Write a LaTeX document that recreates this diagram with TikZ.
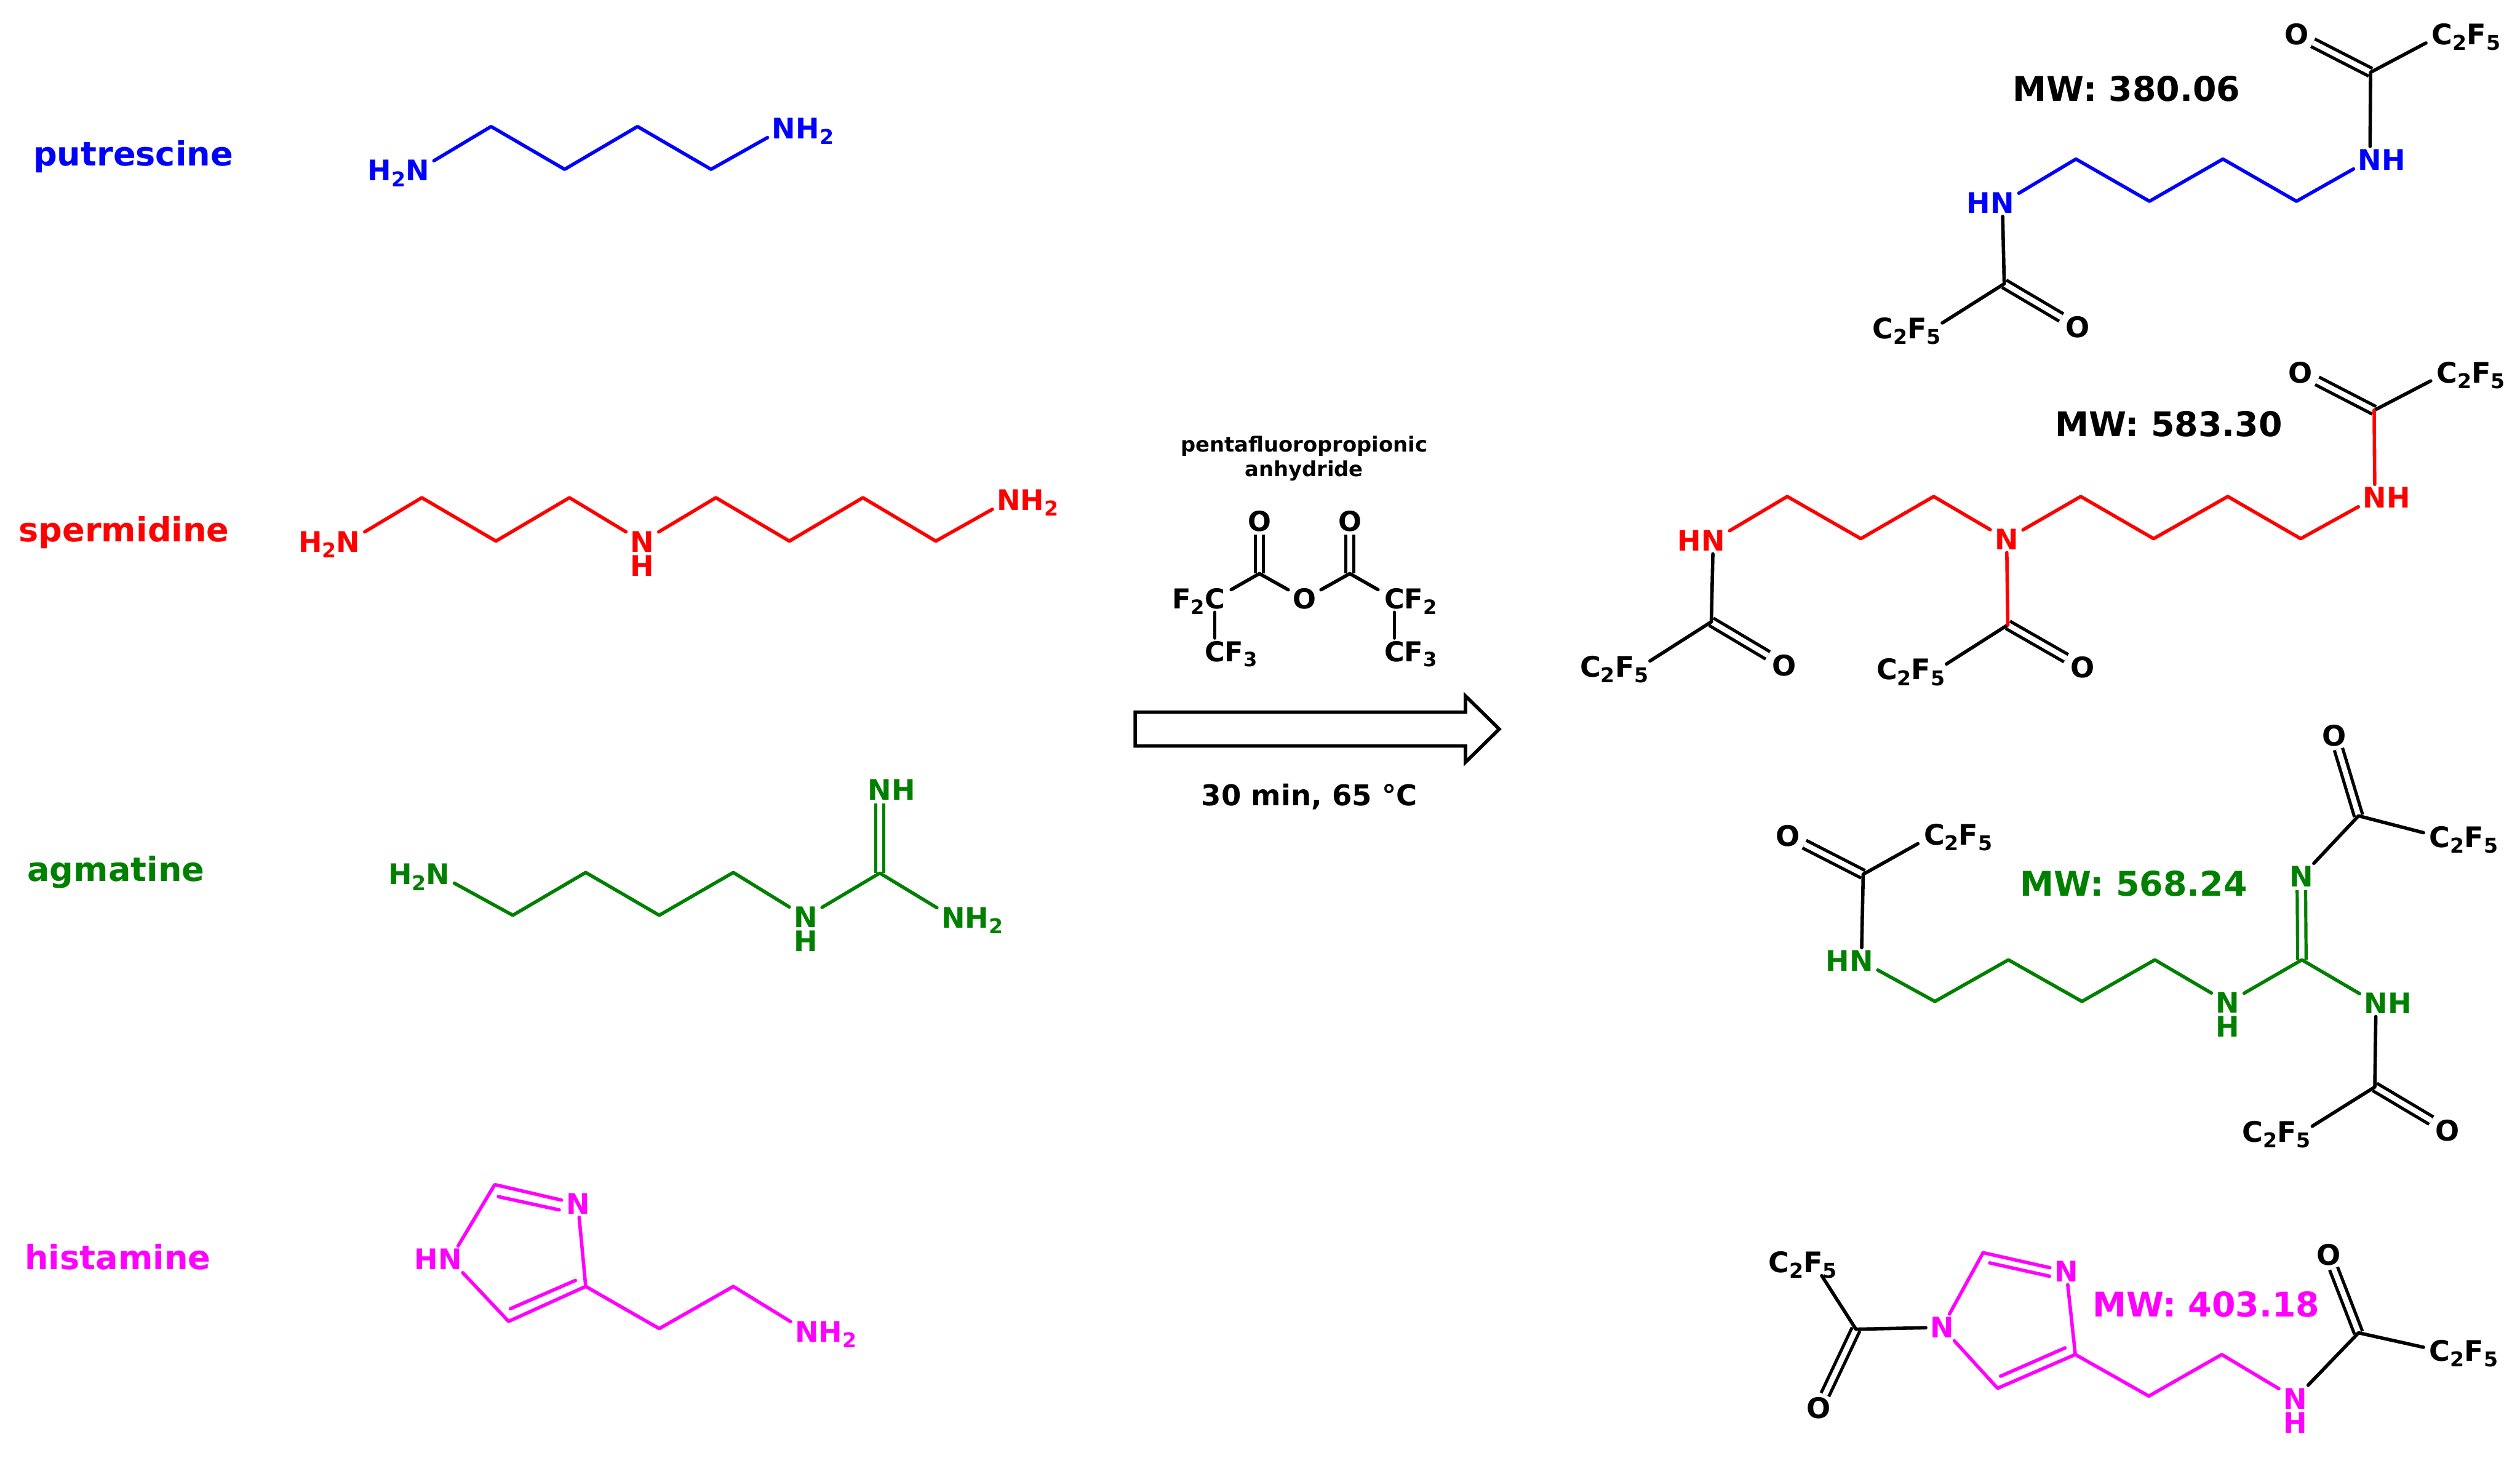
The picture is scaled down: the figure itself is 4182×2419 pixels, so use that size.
\documentclass[tikz,border=0pt]{standalone}
\usepackage{fontspec}
\setmainfont{DejaVu Sans}
\definecolor{hisco}{RGB}{255,0,255}
\definecolor{agmco}{RGB}{0,128,0}
\newcommand{\subnum}[1]{\smash{\raisebox{-0.2em}{\scalebox{0.72}{#1}}}}
\tikzset{
  bond/.style={line width=5.7pt, line join=round, line cap=round},
  dbond/.style={line width=5.3pt, double, double distance=8.7pt},
  atom/.style={font=\fontsize{47}{47}\selectfont\bfseries, inner sep=0pt, minimum width=54pt, minimum height=44pt,
    execute at begin node={\rule{0pt}{0.729em}}},
  tailatom/.style={atom, minimum width=28pt},
  reagent/.style={atom, font=\fontsize{45.5}{45.5}\selectfont\bfseries},
  namelabel/.style={font=\fontsize{55.3}{55.3}\selectfont\bfseries, anchor=base west, inner sep=0pt},
  mwlabel/.style={font=\fontsize{56.5}{56.5}\selectfont\bfseries, inner sep=0pt},
}
\begin{document}
\begin{tikzpicture}[x=1pt,y=-1pt]
    \useasboundingbox (0,0) rectangle (4182,2419);

    % Nombres
    \node[namelabel, blue] (lblput) at (55,275) {putrescine};
    \node[namelabel, red] (lblspd) at (31,899) {spermidine};
    \node[namelabel, agmco] (lblagm) at (45,1463) {agmatine};
    \node[namelabel, hisco] (lblhis) at (41,2107) {histamine};

    % Putrescina
    \node[atom, blue] (pn1) at (693,283) {\llap{H\subnum{2}}N};
    \node[atom, blue] (pn2) at (1301,213) {N\rlap{H\subnum{2}}};
    \coordinate (pc1) at (815,210);
    \coordinate (pc2) at (937,281);
    \coordinate (pc3) at (1058,210);
    \coordinate (pc4) at (1180,281);
    \draw[bond, blue] (pn1) -- (pc1) -- (pc2) -- (pc3) -- (pc4) -- (pn2);

    % Espermidina
    \node[atom, red] (sn1) at (578,899) {\llap{H\subnum{2}}N};
    \node[atom, red] (sn2) at (1066,899) {N};
    \node[atom, red] (sh2) at (1066,939) {H};
    \node[atom, red] (sn3) at (1674,830) {N\rlap{H\subnum{2}}};
    \coordinate (sc1) at (700,826);
    \coordinate (sc2) at (823,898);
    \coordinate (sc3) at (945,826);
    \coordinate (sc4) at (1188,826);
    \coordinate (sc5) at (1310,898);
    \coordinate (sc6) at (1432,826);
    \coordinate (sc7) at (1553,898);
    \draw[bond, red] (sn1) -- (sc1) -- (sc2) -- (sc3) -- (sn2);
    \draw[bond, red] (sn2) -- (sc4) -- (sc5) -- (sc6) -- (sc7) -- (sn3);

    % Agmatina
    \node[atom, agmco] (an1) at (727,1451) {\llap{H\subnum{2}}N};
    \node[atom, agmco] (an2) at (1337,1522) {N};
    \node[atom, agmco] (ah2) at (1337,1562) {H};
    \node[atom, agmco] (an3) at (1460,1311) {N\rlap{H}};
    \node[atom, agmco] (an4) at (1582,1523) {N\rlap{H\subnum{2}}};
    \coordinate (ac1) at (851,1519);
    \coordinate (ac2) at (972,1448);
    \coordinate (ac3) at (1094,1519);
    \coordinate (ac4) at (1217,1448);
    \coordinate (ac5) at (1460,1449);
    \draw[dbond, agmco] (ac5) -- (an3);
    \draw[bond, agmco] (an1) -- (ac1) -- (ac2) -- (ac3) -- (ac4) -- (an2);
    \draw[bond, agmco] (an2) -- (ac5) -- (an4);

    % Histamina
    \node[atom, hisco] (hn1) at (747,2090) {\llap{H}N};
    \node[atom, hisco] (hn2) at (959,1998) {N};
    \node[atom, hisco] (hn3) at (1339,2210) {N\rlap{H\subnum{2}}};
    \coordinate (hc1) at (821,1966);
    \coordinate (hc2) at (972,2135);
    \coordinate (hc3) at (844,2193);
    \coordinate (hc4) at (1094,2205);
    \coordinate (hc5) at (1217,2135);
    \coordinate (hi1) at (827,1986);
    \coordinate (hi2) at (928,2008);
    \coordinate (hi3) at (955,2125);
    \coordinate (hi4) at (847,2172);
    \draw[bond, hisco] (hn1) -- (hc1) -- (hn2) -- (hc2) -- (hc3) -- (hn1);
    \draw[bond, hisco] (hi1) -- (hi2);
    \draw[bond, hisco] (hi3) -- (hi4);
    \draw[bond, hisco] (hc2) -- (hc4) -- (hc5) -- (hn3);

    % Reactivo
    \node[font=\fontsize{34.5}{41}\selectfont\bfseries, align=center, inner sep=0pt] (rname) at (2164,761) {pentafluoropropionic\\anhydride};
    \node[reagent] (ro1) at (2090,865) {O};
    \node[reagent] (ro2) at (2240,865) {O};
    \node[reagent] (ro3) at (2165,994) {O};
    \node[reagent] (rf1) at (2016,994) {\llap{F\subnum{2}}C};
    \node[reagent] (rf2) at (2314,994) {C\rlap{F\subnum{2}}};
    \node[reagent] (rf3) at (2016,1081) {C\rlap{F\subnum{3}}};
    \node[reagent] (rf4) at (2314,1081) {C\rlap{F\subnum{3}}};
    \coordinate (rc1) at (2090,952);
    \coordinate (rc2) at (2240,952);
    \draw[dbond] (rc1) -- (ro1);
    \draw[dbond] (rc2) -- (ro2);
    \draw[bond] (rf1) -- (rc1) -- (ro3) -- (rc2) -- (rf2);
    \draw[bond] (rf1) -- (rf3);
    \draw[bond] (rf2) -- (rf4);

    % Flecha
    \draw[bond, line join=miter] (1884,1182) -- (2432,1182) -- (2432,1155) -- (2488,1210) -- (2432,1265) -- (2432,1238) -- (1884,1238) -- cycle;
    \node[font=\fontsize{47.5}{47.5}\selectfont\bfseries, inner sep=0pt] (rcond) at (2173,1322) {30 min, 65 °C};

    % Derivado de putrescina
    \node[mwlabel] (mwput) at (3529,147) {MW: 380.06};
    \node[atom] (po1) at (3811,57) {O};
    \node[atom] (pf1) at (4053,57) {C\rlap{\subnum{2}F\subnum{5}}};
    \node[atom, blue] (pm1) at (3933,265) {N\rlap{H}};
    \node[atom, blue] (pm2) at (3323,337) {\llap{H}N};
    \node[atom] (po2) at (3448,543) {O};
    \node[tailatom] (pf2) at (3209,545) {\llap{C\subnum{2}F}\subnum{5}};
    \coordinate (pd1) at (3934,120);
    \coordinate (pd2) at (3326,471);
    \coordinate (pd3) at (3445,264);
    \coordinate (pd4) at (3567,334);
    \coordinate (pd5) at (3689,264);
    \coordinate (pd6) at (3811,334);
    \draw[dbond] (pd1) -- (po1);
    \draw[dbond] (pd2) -- (po2);
    \draw[bond] (pf1) -- (pd1) -- (pm1);
    \draw[bond] (pf2) -- (pd2) -- (pm2);
    \draw[bond, blue] (pm2) -- (pd3) -- (pd4) -- (pd5) -- (pd6) -- (pm1);

    % Derivado de espermidina
    \node[mwlabel] (mwspd) at (3599,704) {MW: 583.30};
    \node[atom] (so1) at (3818,618) {O};
    \node[atom] (sf1) at (4061,618) {C\rlap{\subnum{2}F\subnum{5}}};
    \node[atom, red] (sm1) at (3941,826) {N\rlap{H}};
    \node[atom, red] (sm2) at (3330,895) {N};
    \node[atom, red] (sm3) at (2843,897) {\llap{H}N};
    \node[atom] (so2) at (2961,1104) {O};
    \node[tailatom] (sf2) at (2724,1106) {\llap{C\subnum{2}F}\subnum{5}};
    \node[atom] (so3) at (3456,1108) {O};
    \node[tailatom] (sf3) at (3216,1111) {\llap{C\subnum{2}F}\subnum{5}};
    \coordinate (sd1) at (3940,681);
    \coordinate (sd2) at (2840,1032);
    \coordinate (sd3) at (3332,1037);
    \coordinate (sd4) at (3818,894);
    \coordinate (sd5) at (3697,824);
    \coordinate (sd6) at (3574,894);
    \coordinate (sd7) at (3453,824);
    \coordinate (sd8) at (3209,824);
    \coordinate (sd9) at (3088,894);
    \coordinate (sd10) at (2966,824);
    \draw[dbond] (sd1) -- (so1);
    \draw[dbond] (sd2) -- (so2);
    \draw[dbond] (sd3) -- (so3);
    \draw[bond] (sf1) -- (sd1);
    \draw[bond] (sf2) -- (sd2) -- (sm3);
    \draw[bond] (sf3) -- (sd3);
    \draw[bond, red] (sm1) -- (sd1);
    \draw[bond, red] (sm2) -- (sd3);
    \draw[bond, red] (sm1) -- (sd4) -- (sd5) -- (sd6) -- (sd7) -- (sm2);
    \draw[bond, red] (sm2) -- (sd8) -- (sd9) -- (sd10) -- (sm3);

    % Derivado de agmatina
    \node[mwlabel, agmco] (mwagm) at (3541,1466) {MW: 568.24};
    \node[atom] (ao1) at (2967,1387) {O};
    \node[atom] (af1) at (3210,1385) {C\rlap{\subnum{2}F\subnum{5}}};
    \node[atom, agmco] (am1) at (3089,1595) {\llap{H}N};
    \node[atom, agmco] (am2) at (3697,1664) {N};
    \node[atom, agmco] (ah3) at (3697,1704) {H};
    \node[atom, agmco] (am3) at (3943,1665) {N\rlap{H}};
    \node[atom, agmco] (am4) at (3819,1455) {N};
    \node[atom] (ao2) at (3874,1221) {O};
    \node[atom] (af2) at (4049,1389) {C\rlap{\subnum{2}F\subnum{5}}};
    \node[atom] (ao3) at (4062,1876) {O};
    \node[tailatom] (af3) at (3823,1878) {\llap{C\subnum{2}F}\subnum{5}};
    \coordinate (ad1) at (3092,1451);
    \coordinate (ad2) at (3914,1354);
    \coordinate (ad3) at (3941,1804);
    \coordinate (ad4) at (3211,1662);
    \coordinate (ad5) at (3333,1593);
    \coordinate (ad6) at (3455,1662);
    \coordinate (ad7) at (3576,1593);
    \coordinate (ad8) at (3820,1593);
    \draw[dbond] (ad1) -- (ao1);
    \draw[dbond] (ad2) -- (ao2);
    \draw[dbond] (ad3) -- (ao3);
    \draw[dbond, agmco] (ad8) -- (am4);
    \draw[bond] (af1) -- (ad1) -- (am1);
    \draw[bond] (af2) -- (ad2) -- (am4);
    \draw[bond] (af3) -- (ad3) -- (am3);
    \draw[bond, agmco] (am1) -- (ad4) -- (ad5) -- (ad6) -- (ad7) -- (am2);
    \draw[bond, agmco] (am2) -- (ad8) -- (am3);

    % Derivado de histamina
    \node[mwlabel, hisco] (mwhis) at (3661,2165) {MW: 403.18};
    \node[atom] (hf1) at (3009,2095) {\llap{C\subnum{2}}F\rlap{\subnum{5}}};
    \node[atom] (ho1) at (3018,2337) {O};
    \node[atom, hisco] (hm1) at (3223,2203) {N};
    \node[atom, hisco] (hm2) at (3429,2110) {N};
    \node[atom, hisco] (hm3) at (3809,2321) {N};
    \node[atom, hisco] (hh3) at (3809,2361) {H};
    \node[atom] (ho2) at (3864,2083) {O};
    \node[atom] (hf2) at (4049,2242) {C\rlap{\subnum{2}F\subnum{5}}};
    \coordinate (hd1) at (3080,2206);
    \coordinate (hd2) at (3291,2079);
    \coordinate (hd3) at (3444,2248);
    \coordinate (hd4) at (3315,2304);
    \coordinate (hd5) at (3566,2317);
    \coordinate (hd6) at (3687,2248);
    \coordinate (hd7) at (3914,2212);
    \coordinate (hj1) at (3302,2096);
    \coordinate (hj2) at (3401,2118);
    \coordinate (hj3) at (3320,2284);
    \coordinate (hj4) at (3427,2237);
    \draw[dbond] (hd1) -- (ho1);
    \draw[dbond] (hd7) -- (ho2);
    \draw[bond] (hf1) -- (hd1) -- (hm1);
    \draw[bond] (hf2) -- (hd7) -- (hm3);
    \draw[bond, hisco] (hm1) -- (hd2) -- (hm2) -- (hd3) -- (hd4) -- (hm1);
    \draw[bond, hisco] (hj1) -- (hj2);
    \draw[bond, hisco] (hj3) -- (hj4);
    \draw[bond, hisco] (hd3) -- (hd5) -- (hd6) -- (hm3);
\end{tikzpicture}
\end{document}
